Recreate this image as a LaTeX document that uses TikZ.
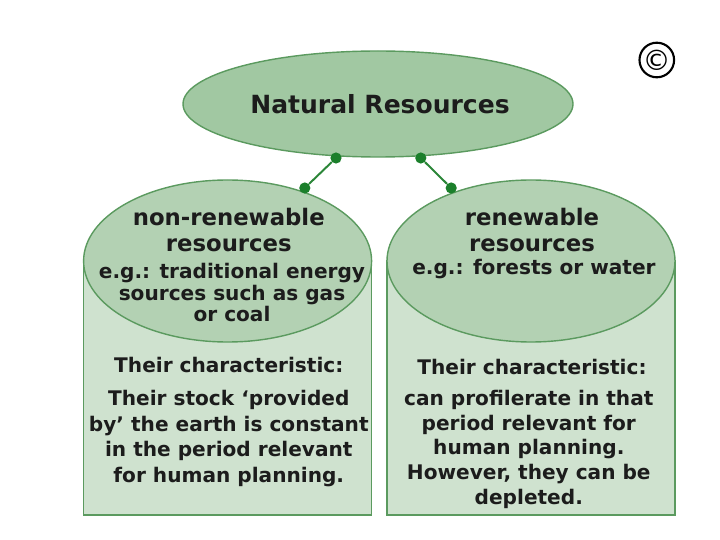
\documentclass[tikz,border=0pt]{standalone}
\usepackage{fontspec}
\setsansfont{DejaVu Sans}
\usepackage{xcolor}
\usetikzlibrary{shapes.geometric}
\definecolor{leaf}{HTML}{5B9A5F}
\definecolor{knot}{HTML}{1B7F2B}
\definecolor{crown}{HTML}{A1C8A2}
\definecolor{disc}{HTML}{B3D1B3}
\definecolor{pale}{HTML}{CFE2CF}
\definecolor{ink}{HTML}{1C1C1C}
\tikzset{
  oval/.style    ={ellipse, draw=leaf, fill=#1, line width=1pt, inner sep=0pt},
  body/.style    ={rectangle, draw=leaf, fill=pale, line width=1.1pt, inner sep=0pt, minimum width=7.2cm, minimum height=6.35cm},
  knotdot/.style ={circle, fill=knot, inner sep=0pt, minimum size=2.8mm},
  linkline/.style={draw=knot!75!leaf, line width=1.4pt},
  words/.style   ={font=\fontsize{14.3}{#1}\selectfont\sffamily\bfseries, text=ink, align=center},
  bigwords/.style={font=\fontsize{16.2}{18.4}\selectfont\sffamily\bfseries, text=ink, align=center},
  heading/.style ={font=\fontsize{17.8}{20}\selectfont\sffamily\bfseries, text=ink, align=center},
}
\begin{document}
\begin{tikzpicture}
\useasboundingbox (0,0) rectangle (18,13.5);
% ---- bodies and discs
\node[body] (leftbody) at (5.69,3.8) {};
\node[body] (rightbody) at (13.275,3.8) {};
\node[oval=disc, minimum width=7.2cm, minimum height=4.05cm] (leftdisc) at (5.69,6.975) {};
\node[oval=disc, minimum width=7.2cm, minimum height=4.05cm] (rightdisc) at (13.275,6.975) {};
\node[oval=crown, minimum width=9.75cm, minimum height=2.65cm] (crown) at (9.45,10.9) {};
\node[heading] (title) at (9.5,10.9) {Natural Resources};

% ---- links
\node[knotdot] (ka) at (8.4,9.55) {};
\node[knotdot] (kb) at (7.62,8.8) {};
\node[knotdot] (kc) at (10.52,9.55) {};
\node[knotdot] (kd) at (11.28,8.8) {};
\draw[linkline] (ka) -- (kb);
\draw[linkline] (kc) -- (kd);

% ---- texts
\node[bigwords] (lefttop) at (5.72,7.75) {non-renewable\\resources};
\node[words=15.2] (leftmore) at (5.8,6.18) {e.g.: traditional energy\\sources such as gas\\or coal};
\node[bigwords] (righttop) at (13.3,7.75) {renewable\\resources};
\node[words=15.2] (rightmore) at (13.35,6.77) {e.g.: forests or water};
\node[words=15.2] (lefthead) at (5.72,4.38) {Their characteristic:};
\node[words=18.3] (leftbodytext) at (5.72,2.54) {Their stock `provided\\by' the earth is constant\\in the period relevant\\for human planning.};
\node[words=15.2] (righthead) at (13.3,4.33) {Their characteristic:};
\node[words=17.6] (rightbodytext) at (13.22,2.27) {can profilerate in that\\period relevant for\\human planning.\\However, they can be\\depleted.};

% ---- mark
\node[circle, draw=black, line width=1.5pt, minimum size=8.2mm, inner sep=0pt, font=\fontsize{20}{20}\selectfont\sffamily] (mark) at (16.42,12) {©};
\end{tikzpicture}
\end{document}
